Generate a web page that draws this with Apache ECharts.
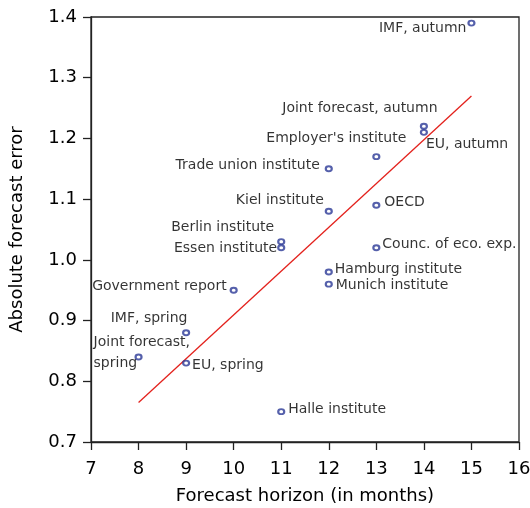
<!DOCTYPE html>
<html>
<head>
<meta charset="utf-8">
<script src="https://cdn.jsdelivr.net/npm/echarts@6/dist/echarts.min.js"></script>
<style>
html,body{margin:0;padding:0;background:#fff;}
#chart{width:530px;height:508px;}
</style>
</head>
<body>
<div id="chart"></div>
<script>
// ---- data ----
var names = ['IMF, autumn', 'Joint forecast, autumn', 'EU, autumn', "Employer's institute",
  'Trade union institute', 'Kiel institute', 'OECD', 'Berlin institute', 'Essen institute',
  'Counc. of eco. exp.', 'Hamburg institute', 'Munich institute', 'Government report',
  'IMF, spring', 'Joint forecast,\nspring', 'EU, spring', 'Halle institute'];
var horizon = [15, 14, 14, 13, 12, 12, 13, 11, 11, 13, 12, 12, 10, 9, 8, 9, 11];
var absError = [1.39, 1.22, 1.21, 1.17, 1.15, 1.08, 1.09, 1.03, 1.02, 1.02, 0.98, 0.96, 0.95, 0.88, 0.84, 0.83, 0.75];
var fitX = [8, 15];
var fitY = [0.765, 1.27];
var xTicks = [7, 8, 9, 10, 11, 12, 13, 14, 15, 16];
var yTicks = ['0.7', '0.8', '0.9', '1.0', '1.1', '1.2', '1.3', '1.4'];

// ---- label placement (style only) ----
var labelPlace = {
  'IMF, autumn': ['right', -5, 5],
  'Joint forecast, autumn': ['center', -64, -18],
  'EU, autumn': ['left', 2, 12],
  "Employer's institute": ['center', -40, -18],
  'Trade union institute': ['right', -9, -3],
  'Kiel institute': ['right', -5, -11],
  'OECD': ['left', 8, -3],
  'Berlin institute': ['right', -7, -14],
  'Essen institute': ['right', -4, 1],
  'Counc. of eco. exp.': ['left', 6, -3],
  'Hamburg institute': ['left', 6, -3],
  'Munich institute': ['left', 7, 1],
  'Government report': ['right', -7, -4],
  'IMF, spring': ['center', -37, -14],
  'Joint forecast,\nspring': ['left', -45, -4],
  'EU, spring': ['left', 6, 2],
  'Halle institute': ['left', 7, -2]
};

var FONT = 'DejaVu Sans';
var pts = names.map(function (n, i) {
  var p = labelPlace[n];
  return {
    name: n,
    value: [horizon[i], absError[i]],
    label: { align: p[0], offset: [p[1], p[2]] }
  };
});
var fitData = fitX.map(function (x, i) { return [x, fitY[i]]; });

var chart = echarts.init(document.getElementById('chart'), null, { renderer: 'canvas' });
chart.setOption({
  animation: false,
  backgroundColor: '#fff',
  grid: { left: 91, right: 11, top: 17, bottom: 66, show: true, borderColor: '#222', borderWidth: 1.3,
    backgroundColor: 'transparent', containLabel: false, outerBoundsMode: 'none' },
  xAxis: {
    type: 'value', min: xTicks[0], max: xTicks[xTicks.length - 1], interval: 1,
    name: 'Forecast horizon (in months)', nameLocation: 'middle', nameGap: 45,
    nameTextStyle: { fontFamily: FONT, fontSize: 18, color: '#000' },
    axisLine: { show: true, lineStyle: { color: '#222', width: 1.3 } },
    axisTick: { show: true, length: 8, lineStyle: { color: '#222', width: 1.3 } },
    axisLabel: { margin: 18, fontFamily: FONT, fontSize: 18, color: '#000' },
    splitLine: { show: false }
  },
  yAxis: {
    type: 'value', min: 0.7, max: 1.4, interval: 0.1,
    name: 'Absolute forecast error', nameLocation: 'middle', nameGap: 65,
    nameTextStyle: { fontFamily: FONT, fontSize: 18, color: '#000' },
    axisLine: { show: true, lineStyle: { color: '#222', width: 1.3 } },
    axisTick: { show: true, length: 8, lineStyle: { color: '#222', width: 1.3 } },
    axisLabel: { margin: 14, fontFamily: FONT, fontSize: 18, color: '#000',
      formatter: function (v) { var s = v.toFixed(1); return yTicks.indexOf(s) >= 0 ? s : ''; } },
    splitLine: { show: false }
  },
  series: [
    {
      type: 'line', data: fitData, symbol: 'none', silent: true, z: 1,
      lineStyle: { color: '#e3211c', width: 1.3 }
    },
    {
      type: 'scatter', data: pts, symbol: 'circle', symbolSize: [6, 5], z: 2,
      itemStyle: { color: 'rgba(255,255,255,0)', borderColor: '#2b3896', borderWidth: 2 },
      label: {
        show: true, position: 'inside', verticalAlign: 'middle',
        fontFamily: FONT, fontSize: 14, color: '#000', lineHeight: 21,
        formatter: function (p) { return p.name; }
      }
    }
  ]
});
</script>
</body>
</html>
